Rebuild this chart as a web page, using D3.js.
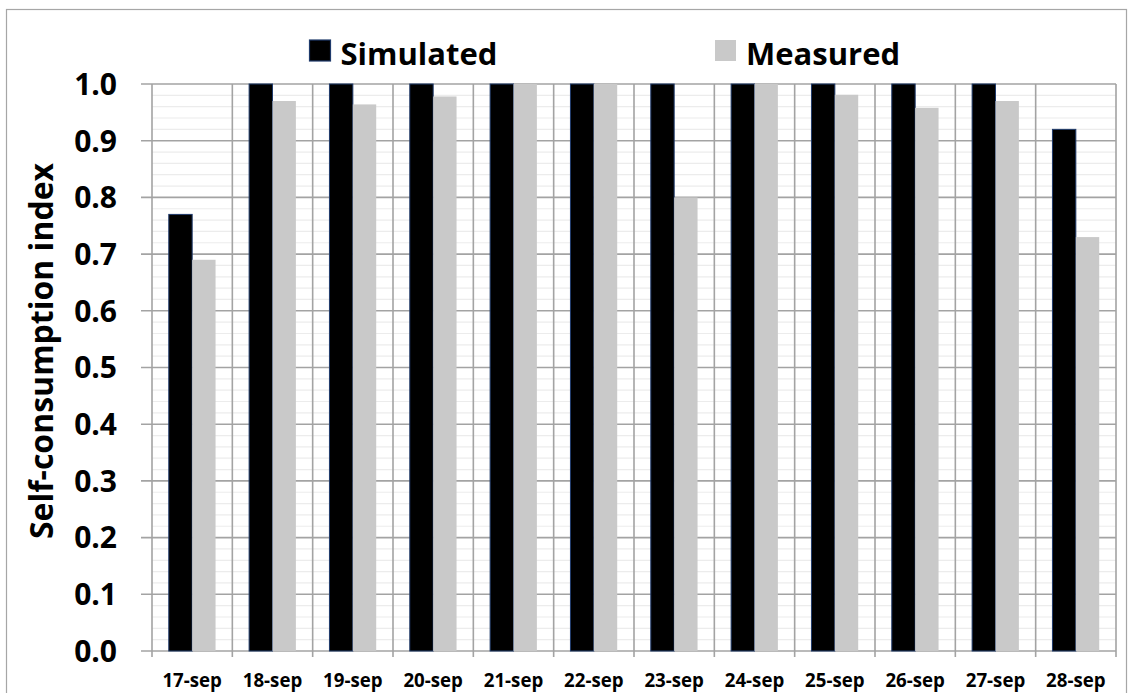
<!DOCTYPE html>
<html>
<head>
<meta charset="utf-8">
<script src="https://cdn.jsdelivr.net/npm/d3@7"></script>
<style>
  html, body { margin: 0; padding: 0; background: #fff; }
  svg { display: block; }
  text { font-family: "Open Sans", Lato, sans-serif; font-weight: bold; fill: #000; }
</style>
</head>
<body>
<svg id="chart" width="1129" height="693"></svg>
<script>
// Daily self-consumption index, simulated vs measured
const days = ["17-sep", "18-sep", "19-sep", "20-sep", "21-sep", "22-sep",
              "23-sep", "24-sep", "25-sep", "26-sep", "27-sep", "28-sep"];
const simulated = [0.77, 1.0, 1.0, 1.0, 1.0, 1.0, 1.0, 1.0, 1.0, 1.0, 1.0, 0.92];
const measured  = [0.69, 0.97, 0.964, 0.978, 1.0, 1.0, 0.80, 1.0, 0.981, 0.958, 0.97, 0.73];
const seriesNames = ["Simulated", "Measured"];
const yTicks = [0, 0.1, 0.2, 0.3, 0.4, 0.5, 0.6, 0.7, 0.8, 0.9, 1.0];

const colors = { Simulated: "#000000", Measured: "#c9c9c9" };
const strokes = { Simulated: "#1f3a6b", Measured: "none" };

const svg = d3.select("#chart");
const W = 1129, H = 693;
const plot = { left: 152, right: 1116, top: 84, bottom: 651 };

svg.append("rect").attr("width", W).attr("height", H).attr("fill", "#fff");
// outer chart frame
svg.append("rect")
  .attr("x", 6.5).attr("y", 9.5).attr("width", 1120).attr("height", 690)
  .attr("fill", "none").attr("stroke", "#a6a6a6").attr("stroke-width", 1.2);

const x = d3.scaleBand().domain(days).range([plot.left, plot.right]).paddingInner(0).paddingOuter(0);
const y = d3.scaleLinear().domain([0, 1]).range([plot.bottom, plot.top]);

const barW = x.bandwidth() * 0.291;
const groupOffset = (x.bandwidth() - 2 * barW) / 2;

// minor gridlines every 0.02
const minor = d3.range(0, 1.0001, 0.02).filter(v => Math.abs(Math.round(v * 10) - v * 10) > 1e-6);
svg.append("g").selectAll("line").data(minor).join("line")
  .attr("x1", plot.left).attr("x2", plot.right)
  .attr("y1", d => y(d)).attr("y2", d => y(d))
  .attr("stroke", "#ececec").attr("stroke-width", 1.2);

// major horizontal gridlines with left tick marks
svg.append("g").selectAll("line").data(yTicks).join("line")
  .attr("x1", plot.left - 11).attr("x2", plot.right)
  .attr("y1", d => y(d)).attr("y2", d => y(d))
  .attr("stroke", "#a3a3a3").attr("stroke-width", 1.6);

// vertical category separators (extend below the axis as tick marks)
const bounds = days.map(d => x(d)).concat([plot.right]);
svg.append("g").selectAll("line").data(bounds).join("line")
  .attr("x1", d => d).attr("x2", d => d)
  .attr("y1", plot.top).attr("y2", plot.bottom + 6)
  .attr("stroke", "#a3a3a3").attr("stroke-width", 1.6);

// bars
const rows = days.map((d, i) => ({ day: d, Simulated: simulated[i], Measured: measured[i] }));
seriesNames.forEach((s, si) => {
  svg.append("g").selectAll("rect").data(rows).join("rect")
    .attr("x", d => x(d.day) + groupOffset + si * barW)
    .attr("y", d => y(d[s]))
    .attr("width", barW)
    .attr("height", d => y(0) - y(d[s]))
    .attr("fill", colors[s])
    .attr("stroke", strokes[s])
    .attr("stroke-width", 1);
});

// y tick labels
svg.append("g").selectAll("text").data(yTicks).join("text")
  .attr("x", 117).attr("y", d => y(d))
  .attr("dy", "0.36em")
  .attr("text-anchor", "end")
  .style("font-size", "30px")
  .text(d => d3.format(".1f")(d));

// x tick labels
svg.append("g").selectAll("text").data(days).join("text")
  .attr("x", d => x(d) + x.bandwidth() / 2).attr("y", 687)
  .attr("text-anchor", "middle")
  .style("font-size", "18.7px")
  .text(d => d);

// y axis title
svg.append("text")
  .attr("transform", "translate(53, 351) rotate(-90)")
  .attr("text-anchor", "middle")
  .style("font-size", "32px")
  .text("Self-consumption index");

// legend
const legendX = [309.5, 715];
seriesNames.forEach((s, i) => {
  svg.append("rect")
    .attr("x", legendX[i]).attr("y", 40).attr("width", 21).attr("height", 21)
    .attr("fill", colors[s]).attr("stroke", strokes[s]).attr("stroke-width", 1.2);
  svg.append("text")
    .attr("x", legendX[i] + 31).attr("y", 64.5)
    .style("font-size", "31px")
    .text(s);
});
</script>
</body>
</html>
